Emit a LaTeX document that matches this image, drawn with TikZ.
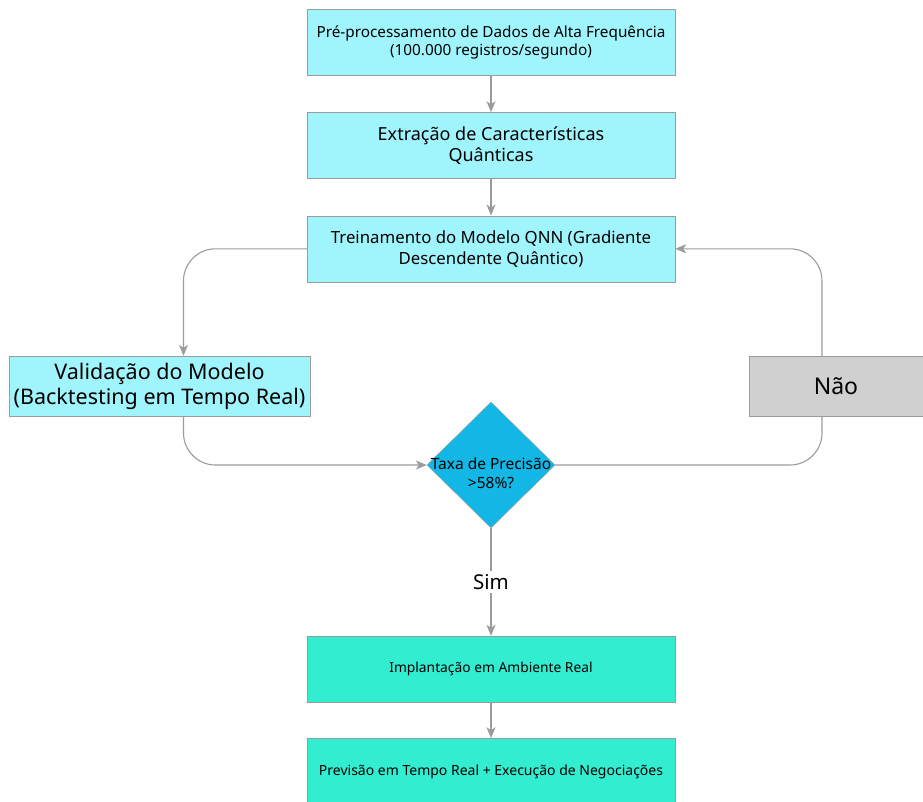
\documentclass[tikz,border=0pt]{standalone}
\usepackage{fontspec}
\setmainfont{Noto Sans}
\usetikzlibrary{shapes.geometric,positioning,arrows.meta}

\definecolor{boxcyan}{RGB}{160,245,253}
\definecolor{decblue}{RGB}{18,183,229}
\definecolor{boxteal}{RGB}{50,237,208}
\definecolor{boxgray}{RGB}{208,208,208}
\definecolor{linegray}{RGB}{155,155,155}

\newcommand{\flatlabel}[1]{\makebox[0pt]{\smash{\raisebox{-23pt}{\begin{tabular}[b]{@{}c@{}}#1\end{tabular}}}}}

\begin{document}
\begin{tikzpicture}[
        x=1pt, y=-1pt,
        node distance=37pt,
        procbox/.style={rectangle, draw=linegray, fill=boxcyan, minimum width=368pt, minimum height=66pt, align=center, inner sep=2pt},
        bigbox/.style={rectangle, draw=linegray, fill=boxcyan, minimum width=301pt, minimum height=60pt, align=center, inner sep=1pt, font=\fontsize{21.5}{25}\selectfont},
        nobox/.style={rectangle, draw=linegray, fill=boxgray, minimum width=174pt, minimum height=60pt, font=\fontsize{23}{26}\selectfont},
        decision/.style={diamond, draw=linegray, fill=decblue, minimum width=128pt, minimum height=126pt, inner sep=0pt, font=\fontsize{15.5}{19}\selectfont},
        endbox/.style={rectangle, draw=linegray, fill=boxteal, minimum width=368pt, minimum height=66pt, align=center},
        link/.style={draw=linegray, line width=1.1pt, -{Stealth[length=11pt,width=9pt,inset=3pt]}},
        >=Stealth
    ]
        \useasboundingbox (0,0) rectangle (923,801);

        % main chain
        \node[procbox, font=\fontsize{15.3}{18}\selectfont] (pre) at (491,42) {Pré-processamento de Dados de Alta Frequência\\(100.000 registros/segundo)};
        \node[procbox, below=of pre, font=\fontsize{18}{21}\selectfont] (feat) {Extração de Características\\Quânticas};
        \node[procbox, below=of feat, font=\fontsize{16.8}{21}\selectfont] (train) {Treinamento do Modelo QNN (Gradiente\\Descendente Quântico)};

        \node[bigbox] (val) at (159.5,386) {Validação do Modelo\\(Backtesting em Tempo Real)};
        \node[nobox] (nao) at (836,386) {Não};
        \node[decision] (acc) at (491,465) {\flatlabel{Taxa de Precisão\\>58\%?}};

        \node[endbox, font=\fontsize{13.8}{16}\selectfont] (deploy) at (491,669) {Implantação em Ambiente Real};
        \node[endbox, below=of deploy, yshift=1pt, font=\fontsize{14}{16}\selectfont] (pred) {Previsão em Tempo Real + Execução de Negociações};

        % arrows
        \draw[link] (pre) -- (feat);
        \draw[link] (feat) -- (train);
        \draw[link, rounded corners=32pt] (train.west) -| ([xshift=24pt]val.north);
        \draw[link, rounded corners=32pt] ([xshift=24pt]val.south) |- (acc.west);
        \draw[draw=linegray, line width=1.1pt, rounded corners=32pt] (acc.east) -| ([xshift=-14pt]nao.south);
        \draw[link, rounded corners=32pt] ([xshift=-14pt]nao.north) |- (train.east);
        \draw[link] (acc.south) -- node[fill=white, font=\fontsize{20.5}{24}\selectfont] {Sim} (deploy);
        \draw[link] (deploy) -- (pred);
    \end{tikzpicture}
\end{document}
